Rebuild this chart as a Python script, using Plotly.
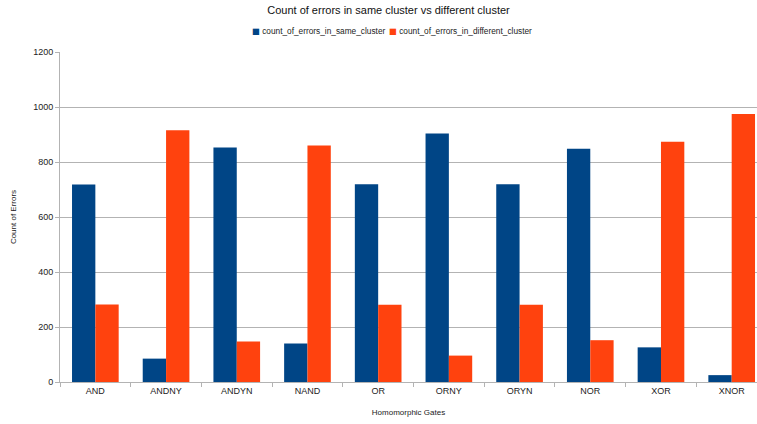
import plotly.graph_objects as go

gates = ["AND", "ANDNY", "ANDYN", "NAND", "OR", "ORNY", "ORYN", "NOR", "XOR", "XNOR"]
same_cluster = [718, 85, 853, 140, 719, 904, 719, 848, 126, 25]
different_cluster = [282, 915, 147, 860, 281, 96, 281, 152, 874, 975]

series_names = ["count_of_errors_in_same_cluster", "count_of_errors_in_different_cluster"]
series_colors = ["#004586", "#ff420e"]

FONT = "Liberation Sans, Arial, sans-serif"
W, H = 757, 424
L, R, T, B = 60, 0, 52, 42
PW, PH = W - L - R, H - T - B


def px_x(x):
    return (x - L) / PW


def px_y(y):
    return (H - B - y) / PH


fig = go.Figure()
for name, vals, col in zip(series_names, [same_cluster, different_cluster], series_colors):
    fig.add_trace(go.Bar(name=name, x=gates, y=vals,
                         marker=dict(color=col, line=dict(width=0)), showlegend=False))

# compact legend: coloured square followed by the series name
legend_left = [250, 386.5]
for name, col, lx in zip(series_names, series_colors, legend_left):
    fig.add_annotation(
        xref="paper", yref="paper", x=px_x(lx), y=px_y(31),
        xanchor="left", yanchor="middle", showarrow=False,
        text=f"<span style='color:{col};font-family:DejaVu Sans'>■</span> {name}",
        font=dict(family=FONT, size=8.3, color="#222222"),
    )

fig.update_layout(
    width=W, height=H,
    margin=dict(l=L, r=R, t=T, b=B),
    paper_bgcolor="white", plot_bgcolor="white",
    font=dict(family=FONT, size=9, color="#222222"),
    barmode="group", bargap=0.34, bargroupgap=0,
    title=dict(text="Count of errors in same cluster vs different cluster",
               x=388.5 / W, xanchor="center", y=1 - 10 / H, yanchor="middle",
               font=dict(family=FONT, size=11, color="#111111")),
)
fig.update_xaxes(
    range=[-0.5, 9.358], showgrid=False, showline=True, linecolor="#b3b3b3", linewidth=1,
    ticks="outside", tickson="boundaries", ticklen=4, tickcolor="#b3b3b3",
    tickfont=dict(size=9, color="#222222"),
    title=dict(text="Homomorphic Gates", font=dict(size=8, color="#222222"), standoff=14),
)
fig.update_yaxes(
    range=[0, 1200], dtick=200, showgrid=True, gridcolor="#b3b3b3", gridwidth=1,
    showline=True, linecolor="#b3b3b3", linewidth=1, zeroline=False,
    ticks="outside", ticklen=4, tickcolor="#b3b3b3",
    tickfont=dict(size=9, color="#222222"),
    title=dict(text="Count of Errors", font=dict(size=8, color="#222222"), standoff=15),
)

fig.write_html("out.html")
